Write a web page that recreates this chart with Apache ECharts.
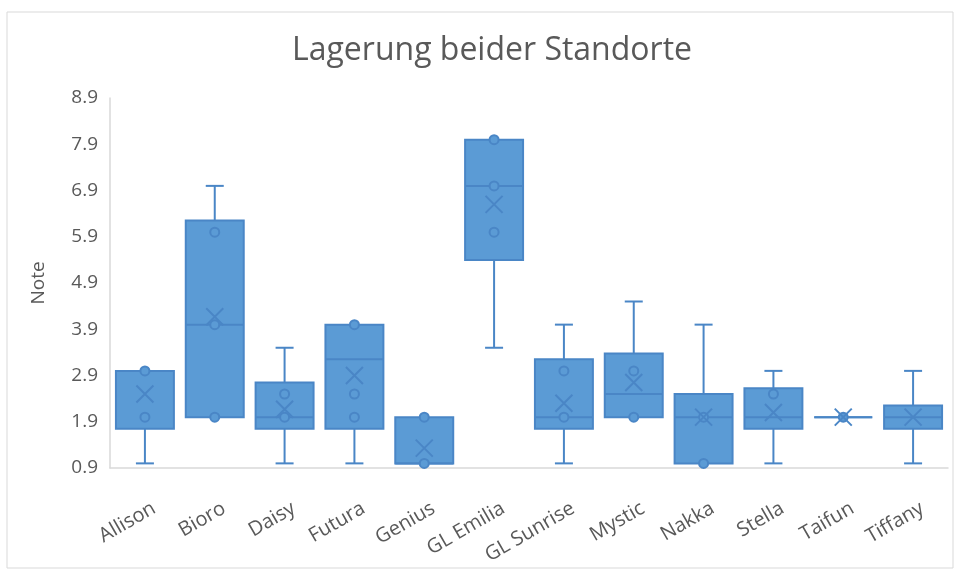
<!DOCTYPE html>
<html>
<head>
<meta charset="utf-8">
<script src="https://cdn.jsdelivr.net/npm/echarts@6/dist/echarts.min.js"></script>
<style>
  html, body {margin: 0; padding: 0; background: #fff;}
  #chart {width: 956px; height: 572px;}
</style>
</head>
<body>
<div id="chart"></div>
<script>
// Sorten und Boxplot-Kennwerte
const categories = ['Allison', 'Bioro', 'Daisy', 'Futura', 'Genius', 'GL Emilia', 'GL Sunrise', 'Mystic', 'Nakka', 'Stella', 'Taifun', 'Tiffany']
const minVals = [1, 2, 1, 1, 1, 3.5, 1, 2, 1, 1, 2, 1]
const q1Vals = [1.75, 2, 1.75, 1.75, 1, 5.4, 1.75, 2, 1, 1.75, 2, 1.75]
const medianVals = [3, 4, 2, 3.25, 1, 7, 2, 2.5, 2, 2, 2, 2]
const q3Vals = [3, 6.25, 2.75, 4, 2, 8, 3.25, 3.375, 2.5, 2.625, 2, 2.25]
const maxVals = [3, 7, 3.5, 4, 2, 8, 4, 4.5, 4, 3, 2, 3]
const meanVals = [2.5, 4.17, 2.17, 2.9, 1.33, 6.6, 2.3, 2.75, 2, 2.1, 2, 2]

// innere Punkte je Sorte
const innerPoints = [
    [2, 3],
    [6, 4, 2],
    [2.5, 2],
    [4, 2.5, 2],
    [2, 1],
    [8, 7, 6],
    [3, 2],
    [3, 2],
    [2, 1],
    [2.5],
    [2],
    [],
]

const yTicks = [0.9, 1.9, 2.9, 3.9, 4.9, 5.9, 6.9, 7.9, 8.9]

const fillColor = '#5b9bd5'
const lineColor = '#4a86c6'
const textColor = '#595959'
const fontFamily = '"Open Sans", "Noto Sans", sans-serif'

let boxData = categories.map((c, i) => [i, minVals[i], q1Vals[i], medianVals[i], q3Vals[i], maxVals[i]])
let pointData = []
innerPoints.forEach((pts, i) => pts.forEach(v => pointData.push([i, v])))
let meanData = meanVals.map((v, i) => [i, v])

/**
 * Box mit Whiskern im Excel-Stil (schmale Endstriche)
 */
function renderBox(params, api) {
    let i = api.value(0)
    let lo = api.value(1), q1 = api.value(2), med = api.value(3), q3 = api.value(4), hi = api.value(5)
    let x = api.coord([i, q1])[0]
    let bw = api.size([1, 0])[0] * 0.83
    let capW = 18
    let yLo = api.coord([i, lo])[1]
    let yQ1 = api.coord([i, q1])[1]
    let yMed = api.coord([i, med])[1]
    let yQ3 = api.coord([i, q3])[1]
    let yHi = api.coord([i, hi])[1]
    let stroke = {stroke: lineColor, lineWidth: 2, fill: null}
    let children = []
    if (hi > q3) {
        children.push({type: 'line', shape: {x1: x, y1: yQ3, x2: x, y2: yHi}, style: stroke})
        children.push({type: 'line', shape: {x1: x - capW / 2, y1: yHi, x2: x + capW / 2, y2: yHi}, style: stroke})
    }
    if (lo < q1) {
        children.push({type: 'line', shape: {x1: x, y1: yQ1, x2: x, y2: yLo}, style: stroke})
        children.push({type: 'line', shape: {x1: x - capW / 2, y1: yLo, x2: x + capW / 2, y2: yLo}, style: stroke})
    }
    children.push({
        type: 'rect',
        shape: {x: x - bw / 2, y: yQ3, width: bw, height: yQ1 - yQ3},
        style: {fill: fillColor, stroke: lineColor, lineWidth: 2},
    })
    children.push({type: 'line', shape: {x1: x - bw / 2, y1: yMed, x2: x + bw / 2, y2: yMed}, style: stroke})
    return {type: 'group', children: children}
}

let chart = echarts.init(document.getElementById('chart'), null, {renderer: 'canvas'})

chart.setOption({
    backgroundColor: '#fff',
    animation: false,
    title: {
        text: 'Lagerung beider Standorte',
        left: 487,
        textAlign: 'center',
        top: 30,
        textStyle: {fontFamily: fontFamily, fontSize: 32, fontWeight: 'normal', color: textColor},
    },
    graphic: [{
        type: 'rect',
        shape: {x: 7, y: 12, width: 946, height: 556},
        style: {fill: null, stroke: '#d9d9d9', lineWidth: 1},
        silent: true,
    }],
    grid: {left: 110, right: 8, top: 98, bottom: 104},
    xAxis: {
        type: 'category',
        data: categories,
        axisLine: {lineStyle: {color: '#d9d9d9', width: 1.5}},
        axisTick: {show: false},
        axisLabel: {
            rotate: 30,
            align: 'right',
            verticalAlign: 'top',
            padding: [24, 9, 0, 0],
            margin: 5,
            interval: 0,
            fontFamily: fontFamily,
            fontSize: 20,
            color: textColor,
        },
    },
    yAxis: {
        type: 'value',
        min: 0.9,
        max: 8.9,
        name: 'Note',
        nameLocation: 'middle',
        nameGap: 62,
        nameTextStyle: {fontFamily: fontFamily, fontSize: 19, color: textColor},
        axisLine: {show: true, lineStyle: {color: '#d9d9d9', width: 1.5}},
        axisTick: {show: false},
        splitLine: {show: false},
        axisLabel: {
            customValues: yTicks,
            formatter: v => v.toFixed(1),
            margin: 12,
            fontFamily: fontFamily,
            fontSize: 19,
            color: textColor,
        },
    },
    series: [
        {
            type: 'custom',
            renderItem: renderBox,
            data: boxData,
            encode: {x: 0, y: [1, 2, 3, 4, 5]},
            z: 2,
        },
        {
            type: 'scatter',
            data: pointData,
            symbol: 'circle',
            symbolSize: 9,
            itemStyle: {color: fillColor, borderColor: lineColor, borderWidth: 2, opacity: 1},
            z: 3,
        },
        {
            type: 'scatter',
            data: meanData,
            symbol: 'path://M0,0L10,10M10,0L0,10',
            symbolSize: 17,
            itemStyle: {color: 'rgba(0,0,0,0)', borderColor: lineColor, borderWidth: 2, opacity: 1},
            z: 4,
        },
    ],
})
</script>
</body>
</html>
